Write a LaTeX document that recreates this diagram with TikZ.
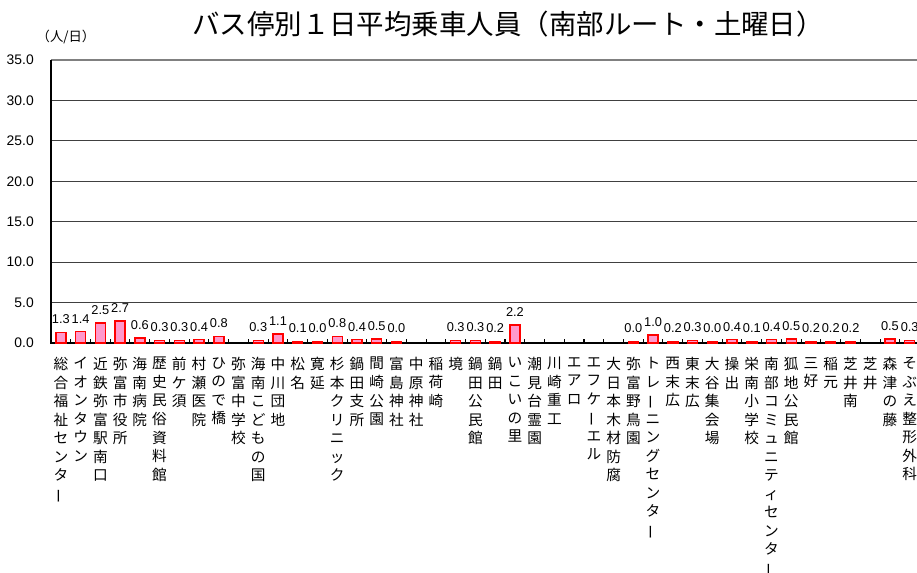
\documentclass[tikz,border=0pt]{standalone}
\usepackage{fontspec}
\usepackage{graphicx}
\setmainfont{Liberation Sans}
\newfontfamily\jp{Noto Sans CJK JP}
\definecolor{barpink}{HTML}{FF99CC}
\definecolor{barred}{HTML}{FF0000}
\definecolor{gridgray}{HTML}{404040}

% vertical stop names, one character per line
\newcommand\stoplabel[1]{\vtop{\baselineskip=13.9pt\relax\stopchars#1\relax}}
\def\stopchars#1{\ifx\relax#1\else\stopchar{#1}\expandafter\stopchars\fi}
\def\stopchar#1{\hbox to 12pt{\hss\ifx ー#1\rotatebox[origin=c]{90}{ー}\else#1\fi\hss}}

\begin{document}
\begin{tikzpicture}
  [x=0.75pt, y=0.75pt,
    bar/.style={
      draw=barred, fill=barpink, line width=1.1pt
    },
    grid/.style={draw=gridgray, line width=0.9pt},
    val/.style={font=\fontsize{9.6pt}{10pt}\selectfont, inner sep=0pt},
    ylab/.style={font=\fontsize{10.4pt}{12pt}\selectfont, anchor=east, inner sep=0pt},
    stop/.style={font=\jp\fontsize{11pt}{13.9pt}\selectfont, anchor=north, inner sep=0pt},
  ]
  \useasboundingbox (0,0) rectangle (917,573);

  % Title and unit
  \node[font=\jp\fontsize{20.6pt}{24pt}\selectfont] (title) at (508,549)
    {バス停別１日平均乗車人員（南部ルート・土曜日）};
  \node[font=\jp\fontsize{10pt}{12pt}\selectfont] (unit) at (66,536) {（人/日）};

  % Grid lines and y labels
  \foreach \g/\t in {0/0.0, 5/5.0, 10/10.0, 15/15.0, 20/20.0, 25/25.0, 30/30.0, 35/35.0}
    \node[ylab] (y\g) at (34,230+\g*8.086) {\t};
  \foreach \g in {5,10,...,30}
    \draw[grid] (51,230+\g*8.086) -- (917,230+\g*8.086);
  \draw[draw=gray, line width=1.3pt] (51,513) -- (917,513);

  % Axes and ticks
  \draw[black, line width=1.3pt] (51,513) -- (51,230) -- (917,230);
  \foreach \k in {1,...,44}
    \draw[black, line width=0.8pt] (51+\k*19.74,230) -- ++(0,4);

  % Bars with values
  \foreach \i/\v in {1/1.3, 2/1.4, 3/2.5, 4/2.7, 5/0.6, 6/0.3, 7/0.3, 8/0.4, 9/0.8,
      11/0.3, 12/1.1, 13/0.1, 14/0.0, 15/0.8, 16/0.4, 17/0.5, 18/0.0,
      21/0.3, 22/0.3, 23/0.2, 24/2.2, 30/0.0, 31/1.0, 32/0.2, 33/0.3,
      34/0.0, 35/0.4, 36/0.1, 37/0.4, 38/0.5, 39/0.2, 40/0.2, 41/0.2,
      43/0.5, 44/0.3} {
    \pgfmathsetmacro\x{51+(\i-0.5)*19.74}
    \pgfmathsetmacro\h{max(\v*8.086,1.6)}
    \draw[bar] (\x-5,230) rectangle (\x+5,230+\h);
    \node[val] (v\i) at (\x,243+\h) {\v};
  }

  % Stop names
  \foreach \i/\name in {1/総合福祉センター, 2/イオンタウン, 3/近鉄弥富駅南口,
      4/弥富市役所, 5/海南病院, 6/歴史民俗資料館, 7/前ケ須, 8/村瀬医院,
      9/ひので橋, 10/弥富中学校, 11/海南こどもの国, 12/中川団地, 13/松名,
      14/寛延, 15/杉本クリニック, 16/鍋田支所, 17/間崎公園, 18/富島神社,
      19/中原神社, 20/稲荷崎, 21/境, 22/鍋田公民館, 23/鍋田, 24/いこいの里,
      25/潮見台霊園, 26/川崎重工, 27/エアロ, 28/エフケーエル, 29/大日本木材防腐,
      30/弥富野鳥園, 31/トレーニングセンター, 32/西末広, 33/東末広,
      34/大谷集会場, 35/操出, 36/栄南小学校, 37/南部コミュニティセンター,
      38/狐地公民館, 39/三好, 40/稲元, 41/芝井南, 42/芝井, 43/森津の藤,
      44/そぶえ整形外科} {
    \pgfmathsetmacro\x{51+(\i-0.5)*19.74}
    \node[stop] (s\i) at (\x,216) {\expandafter\stoplabel\expandafter{\name}};
  }
\end{tikzpicture}
\end{document}
